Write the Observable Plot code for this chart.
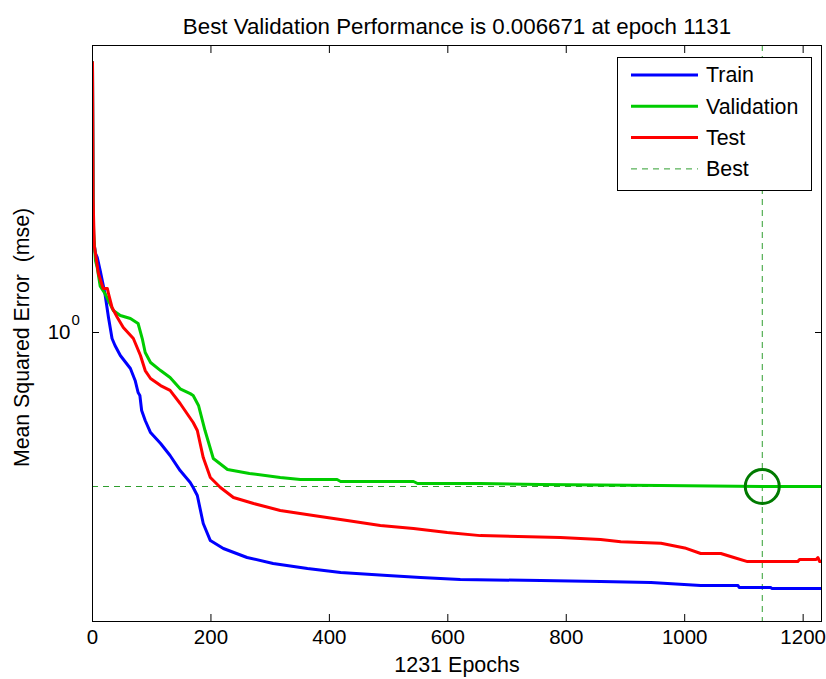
<!DOCTYPE html>
<html><head><meta charset="utf-8">
<script src="https://cdn.jsdelivr.net/npm/d3@7"></script>
<script src="https://cdn.jsdelivr.net/npm/@observablehq/plot@0.6"></script>
<style>
body{margin:0;background:#fff;}
#chart{width:826px;height:679px;}
</style></head><body><div id="chart"></div>
<script>
// ---- data ----
const titleText = "Best Validation Performance is 0.006671 at epoch 1131";
const xLabelText = "1231 Epochs";
const yLabelText = "Mean Squared Error  (mse)";
const seriesNames = ["Train", "Validation", "Test"];
const bestLabel = "Best";
const xTicks = [0, 200, 400, 600, 800, 1000, 1200];
const yTicks = [1];
const bestEpoch = 1131;
const bestPerf = 0.006671;

const trainEpochs = [0,1,2,5,8,13,21,27,33,38,47,64,72,77,80,83,89,98,115,131,148,165,170,177,187,199,221,261,305,363,419,498,554,621,757,858,943,1027,1090,1092,1145,1147,1231];
const trainMSE = [6530,73,20,13.1,11.5,7.52,3.56,1.63,0.822,0.655,0.473,0.310,0.210,0.142,0.129,0.0791,0.0571,0.0386,0.0270,0.0183,0.0112,0.0076,0.00646,0.00498,0.0020,0.00115,0.000888,0.000663,0.000545,0.000463,0.000407,0.000369,0.000346,0.000324,0.000313,0.000303,0.000294,0.000266,0.000266,0.000250,0.000250,0.000242,0.000242];

const valEpochs = [0,1,2,5,8,13,21,35,47,64,77,84,89,98,115,131,148,165,170,179,190,204,228,265,317,351,413,419,542,549,655,757,960,1131,1231];
const valMSE = [6530,60,25,10.4,8.28,4.5,3.56,2.05,1.74,1.58,1.34,0.822,0.521,0.377,0.290,0.231,0.16,0.137,0.129,0.0931,0.0412,0.0166,0.0116,0.0102,0.00894,0.00838,0.00838,0.00785,0.00785,0.00736,0.00736,0.00713,0.00690,0.006671,0.006671];

const testEpochs = [0,1,3,5,10,18,25,27,33,42,52,69,81,89,98,115,131,148,170,177,187,199,216,238,272,317,373,430,486,542,599,655,790,858,892,960,1000,1027,1061,1083,1106,1191,1194,1222,1225,1228,1231];
const testMSE = [6530,80,16.9,13.1,6.82,4.19,4.19,3.56,2.26,1.63,1.18,0.822,0.473,0.290,0.224,0.178,0.152,0.0993,0.0535,0.0412,0.0171,0.00894,0.00646,0.00467,0.00384,0.00306,0.0026,0.00221,0.00188,0.0017,0.00149,0.00135,0.00127,0.00119,0.00111,0.00105,0.000905,0.000755,0.000755,0.000663,0.00058,0.00058,0.000621,0.000621,0.00066,0.00058,0.00058];

// ---- styles ----
const seriesColors = ["#0000ff", "#00cc00", "#ff0000"];
const bestLineColor = "#2f9e2f";
const bestCircleColor = "#007a00";
const font = '"Liberation Sans", Arial, Helvetica, sans-serif';

const rows = [];
[[trainEpochs, trainMSE], [valEpochs, valMSE], [testEpochs, testMSE]].forEach(([E, V], k) => {
  E.forEach((e, i) => rows.push({epoch: e, mse: V[i], series: seriesNames[k]}));
});

const W = 826, H = 679, mL = 92, mR = 5, mT = 45, mB = 58;

const svg = Plot.plot({
  width: W, height: H,
  marginLeft: mL, marginRight: mR, marginTop: mT, marginBottom: mB,
  style: {fontFamily: font, fontSize: "20px", color: "#000", background: "#fff"},
  x: {domain: [0, 1231]},
  y: {type: "log", domain: [8.26e-5, 11350]},
  color: {domain: seriesNames, range: seriesColors},
  marks: [
    Plot.ruleY([bestPerf], {stroke: bestLineColor, strokeWidth: 1, strokeDasharray: "6,5"}),
    Plot.ruleX([bestEpoch], {stroke: bestLineColor, strokeWidth: 1, strokeDasharray: "6,5"}),
    Plot.line(rows, {x: "epoch", y: "mse", z: "series", stroke: "series", strokeWidth: 3, clip: true}),
    Plot.dot([{e: bestEpoch, v: bestPerf}], {x: "e", y: "v", r: 17, stroke: bestCircleColor, strokeWidth: 3, fill: "none"}),
    Plot.frame({stroke: "#000", strokeWidth: 1}),
    Plot.axisX(xTicks, {anchor: "bottom", tickSize: -7, tickPadding: 15, tickFormat: d => String(d), label: null, fontSize: 20.5, stroke: "#000"}),
    Plot.axisX(xTicks, {anchor: "top", tickSize: -7, tickFormat: () => "", label: null, stroke: "#000"}),
    Plot.axisY(yTicks, {anchor: "left", tickSize: -7, tickFormat: () => "", label: null, stroke: "#000"}),
    Plot.axisY(yTicks, {anchor: "right", tickSize: -7, tickFormat: () => "", label: null, stroke: "#000"}),
    Plot.text(yTicks, {y: d => d, frameAnchor: "left", text: () => "10", textAnchor: "end", dx: -22, fontSize: 20.5, fill: "#000"}),
    Plot.text(yTicks, {y: d => d, frameAnchor: "left", text: d => String(Math.round(Math.log10(d))), textAnchor: "start", dx: -21, dy: -12, fontSize: 15, fill: "#000"}),
    Plot.text([titleText], {frameAnchor: "top", text: d => d, textAnchor: "middle", dy: -27, fontSize: 22.3, fill: "#000"}),
    Plot.text([xLabelText], {frameAnchor: "bottom", text: d => d, textAnchor: "middle", dy: 50, fontSize: 21.5, fill: "#000"}),
    Plot.text([yLabelText], {frameAnchor: "left", text: d => d, textAnchor: "middle", rotate: -90, dx: -70, dy: 4, fontSize: 21.3, fill: "#000"})
  ]
});

// ---- legend ----
const lg = d3.select(svg).append("g").attr("font-family", font).attr("font-size", 21.4).attr("text-anchor", "start");
lg.append("rect").attr("x", 617.5).attr("y", 57.5).attr("width", 194).attr("height", 133)
  .attr("fill", "#fff").attr("stroke", "#000").attr("stroke-width", 1);
const entries = seriesNames.map((n, i) => ({name: n, color: seriesColors[i], dash: null, w: 3}))
  .concat([{name: bestLabel, color: bestLineColor, dash: "6,5", w: 1}]);
entries.forEach((d, i) => {
  const y = 75 + i * 31.3;
  lg.append("line").attr("x1", 631).attr("x2", 698).attr("y1", y).attr("y2", y)
    .attr("stroke", d.color).attr("stroke-width", d.w).attr("stroke-dasharray", d.dash);
  lg.append("text").attr("x", 706).attr("y", y).attr("dy", "0.35em").attr("fill", "#000").text(d.name);
});

document.getElementById("chart").appendChild(svg);
</script>
</body></html>
